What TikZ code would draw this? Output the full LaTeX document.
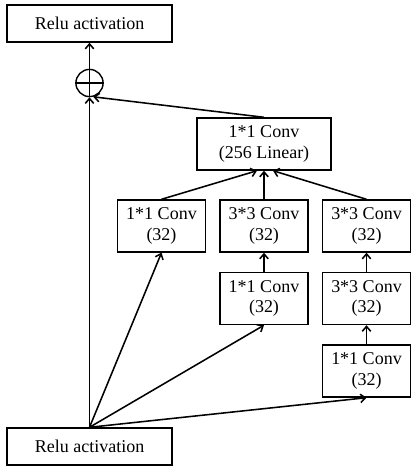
\documentclass[tikz,border=0pt]{standalone}
\usepackage{fontspec}
\setmainfont{Liberation Serif}
\usetikzlibrary{calc,arrows.meta}
\tikzset{
  layer/.style={draw, line width=1pt, align=center, inner sep=0pt, font=\fontsize{12.8}{14.5}\selectfont},
  relu/.style={layer, minimum width=4.125cm, minimum height=0.925cm},
  conv/.style={layer, minimum width=2.2cm, minimum height=1.3cm},
  flow/.style={-{Straight Barb[length=3.5pt, width=6pt]}, line width=1.1pt},
}

\begin{document}
\begin{tikzpicture}[x=0.025cm, y=-0.025cm]
			%%%%% START %%%%%
			\useasboundingbox (0, 0) rectangle (411, 468);
			
			\node[relu] (relu_out) at (89.5, 23.5) {Relu activation};
			\node[draw, circle, line width=1pt, minimum size=0.68cm, inner sep=0pt] (sum) at (89.5, 83) {};
			\draw[line width=1pt] (sum.north) -- (sum.south);
			\draw[line width=1pt] (sum.west) -- (sum.east);
			
			\node[conv, minimum width=3.35cm] (lin) at (264, 144) {1*1 Conv\\(256 Linear)};
			
			\node[conv] (conv11a) at (161.5, 226) {1*1 Conv\\(32)};
			\node[conv] (conv33a) at (264, 226) {3*3 Conv\\(32)};
			\node[conv] (conv33c) at (366.5, 226) {3*3 Conv\\(32)};
			
			\node[conv] (conv11b) at (264, 298.5) {1*1 Conv\\(32)};
			\node[conv] (conv33b) at (366.5, 298.5) {3*3 Conv\\(32)};
			
			\node[conv] (conv11c) at (366.5, 371) {1*1 Conv\\(32)};
			
			\node[relu] (relu_in) at (89.5, 446.5) {Relu activation};
			
			% shortcut and branches
			\draw[flow] (relu_in.north) -- (sum.south);
			\draw[flow] (relu_in.north) -- (conv11a.south);
			\draw[flow] (relu_in.north) -- (conv11b.south);
			\draw[flow] (relu_in.north) -- (conv11c.south);
			
			\draw[flow] (conv11b.north) -- (conv33a.south);
			\draw[flow] (conv11c.north) -- (conv33b.south);
			\draw[flow] (conv33b.north) -- (conv33c.south);
			
			\draw[flow] (conv11a.north) -- ($(lin.south)+(-7, 0)$);
			\draw[flow] (conv33a.north) -- (lin.south);
			\draw[flow] (conv33c.north) -- ($(lin.south)+(9, 0)$);
			
			\draw[flow] (lin.north) -- (sum.-75);
			\draw[flow] (sum.north) -- (relu_out.south);
			
			%%%%% END %%%%%
		\end{tikzpicture}
\end{document}
